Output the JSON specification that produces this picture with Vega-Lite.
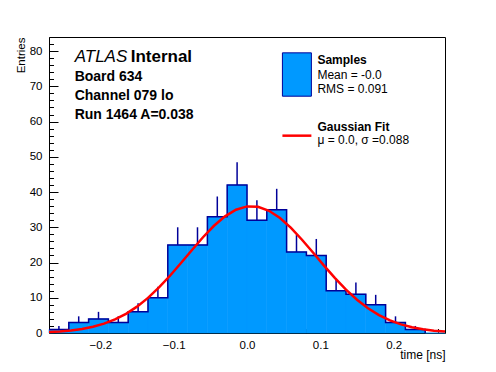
{
  "$schema": "https://vega.github.io/schema/vega-lite/v6.json",
  "autosize": {"type": "none"},
  "padding": {"left": 49, "top": 37, "right": 51, "bottom": 39},
  "width": 396,
  "height": 296,
  "background": "white",
  "config": {
    "view": {"stroke": "black", "strokeWidth": 1},
    "font": "Liberation Sans",
    "axis": {"grid": false, "domain": false, "tickColor": "black", "tickWidth": 1, "labelColor": "black", "titleColor": "black", "labelFont": "Liberation Sans", "titleFont": "Liberation Sans", "titleFontWeight": "normal", "zindex": 2}
  },
  "datasets": {
    "bins": [
      {"lo": -0.270, "hi": -0.243, "center": -0.2565, "n": 1, "top": 2.00},
      {"lo": -0.243, "hi": -0.216, "center": -0.2295, "n": 3, "top": 4.73},
      {"lo": -0.216, "hi": -0.189, "center": -0.2025, "n": 4, "top": 6.00},
      {"lo": -0.189, "hi": -0.162, "center": -0.1755, "n": 3, "top": 4.73},
      {"lo": -0.162, "hi": -0.135, "center": -0.1485, "n": 6, "top": 8.45},
      {"lo": -0.135, "hi": -0.108, "center": -0.1215, "n": 10, "top": 13.16},
      {"lo": -0.108, "hi": -0.081, "center": -0.0945, "n": 25, "top": 30.00},
      {"lo": -0.081, "hi": -0.054, "center": -0.0675, "n": 25, "top": 30.00},
      {"lo": -0.054, "hi": -0.027, "center": -0.0405, "n": 33, "top": 38.74},
      {"lo": -0.027, "hi": 0.000, "center": -0.0135, "n": 42, "top": 48.48},
      {"lo": 0.000, "hi": 0.027, "center": 0.0135, "n": 32, "top": 37.66},
      {"lo": 0.027, "hi": 0.054, "center": 0.0405, "n": 35, "top": 40.92},
      {"lo": 0.054, "hi": 0.081, "center": 0.0675, "n": 23, "top": 27.80},
      {"lo": 0.081, "hi": 0.108, "center": 0.0945, "n": 22, "top": 26.69},
      {"lo": 0.108, "hi": 0.135, "center": 0.1215, "n": 12, "top": 15.46},
      {"lo": 0.135, "hi": 0.162, "center": 0.1485, "n": 11, "top": 14.32},
      {"lo": 0.162, "hi": 0.189, "center": 0.1755, "n": 8, "top": 10.83},
      {"lo": 0.189, "hi": 0.216, "center": 0.2025, "n": 3, "top": 4.73},
      {"lo": 0.216, "hi": 0.243, "center": 0.2295, "n": 1, "top": 2.00},
      {"lo": 0.243, "hi": 0.270, "center": 0.2565, "n": 0, "top": 0}
    ],
    "fit": [
      {"t": -0.270, "f": 0.263}, {"t": -0.255, "f": 0.443}, {"t": -0.240, "f": 0.723},
      {"t": -0.225, "f": 1.148}, {"t": -0.210, "f": 1.771}, {"t": -0.195, "f": 2.650},
      {"t": -0.180, "f": 3.855}, {"t": -0.165, "f": 5.45}, {"t": -0.150, "f": 7.48},
      {"t": -0.135, "f": 9.97}, {"t": -0.120, "f": 12.92}, {"t": -0.105, "f": 16.25},
      {"t": -0.090, "f": 19.86}, {"t": -0.075, "f": 23.57}, {"t": -0.060, "f": 27.17},
      {"t": -0.045, "f": 30.43}, {"t": -0.030, "f": 33.11}, {"t": -0.015, "f": 34.99},
      {"t": 0.000, "f": 35.92}, {"t": 0.015, "f": 35.81}, {"t": 0.030, "f": 34.69},
      {"t": 0.045, "f": 32.63}, {"t": 0.060, "f": 29.82}, {"t": 0.075, "f": 26.47},
      {"t": 0.090, "f": 22.83}, {"t": 0.105, "f": 19.12}, {"t": 0.120, "f": 15.56},
      {"t": 0.135, "f": 12.29}, {"t": 0.150, "f": 9.44}, {"t": 0.165, "f": 7.04},
      {"t": 0.180, "f": 5.10}, {"t": 0.195, "f": 3.59}, {"t": 0.210, "f": 2.45},
      {"t": 0.225, "f": 1.63}, {"t": 0.240, "f": 1.05}, {"t": 0.255, "f": 0.657},
      {"t": 0.270, "f": 0.40}
    ]
  },
  "resolve": {"axis": {"x": "independent", "y": "independent"}},
  "layer": [
    {
      "data": {"name": "bins"},
      "mark": {"type": "rect", "fill": "#0099ff", "stroke": "#0099ff", "strokeWidth": 0.6},
      "encoding": {
        "x": {"field": "lo", "type": "quantitative", "scale": {"domain": [-0.27, 0.27], "nice": false, "zero": false},
              "axis": {"orient": "bottom", "values": [-0.2, -0.1, 0, 0.1, 0.2], "offset": -9, "tickSize": 9, "labelPadding": 6, "labelFontSize": 11.5, "title": "time [ns]", "titleFontSize": 12, "titleAnchor": "end", "titleAlign": "right", "titleBaseline": "alphabetic", "titleX": 396, "titleY": 34}},
        "x2": {"field": "hi"},
        "y": {"field": "n", "type": "quantitative", "scale": {"domain": [0, 84], "nice": false, "zero": true},
              "axis": {"orient": "left", "values": [0, 10, 20, 30, 40, 50, 60, 70, 80], "offset": -9, "tickSize": 9, "labelPadding": 7, "labelFontSize": 11.5, "title": "Entries", "titleFontSize": 11.5, "titleAngle": -90, "titleAnchor": "end", "titleAlign": "right", "titleBaseline": "alphabetic", "titleX": -34, "titleY": 0}},
        "y2": {"datum": 0}
      }
    },
    {
      "data": {"name": "bins"},
      "mark": {"type": "rule", "color": "#000099", "strokeWidth": 1.5},
      "encoding": {
        "x": {"field": "center", "type": "quantitative",
              "axis": {"orient": "bottom", "values": [-0.26, -0.24, -0.22, -0.18, -0.16, -0.14, -0.12, -0.08, -0.06, -0.04, -0.02, 0.02, 0.04, 0.06, 0.08, 0.12, 0.14, 0.16, 0.18, 0.22, 0.24, 0.26], "offset": -4.5, "tickSize": 4.5, "labels": false, "title": null}},
        "y": {"field": "n", "type": "quantitative",
              "axis": {"orient": "left", "values": [2, 4, 6, 8, 12, 14, 16, 18, 22, 24, 26, 28, 32, 34, 36, 38, 42, 44, 46, 48, 52, 54, 56, 58, 62, 64, 66, 68, 72, 74, 76, 78, 82, 84], "offset": -4.5, "tickSize": 4.5, "labels": false, "title": null}},
        "y2": {"field": "top"}
      }
    },
    {
      "data": {"name": "bins"},
      "mark": {"type": "line", "interpolate": "step-after", "color": "#000099", "strokeWidth": 1.5},
      "encoding": {
        "x": {"field": "lo", "type": "quantitative", "axis": null},
        "y": {"field": "n", "type": "quantitative", "axis": null}
      }
    },
    {
      "data": {"name": "fit"},
      "mark": {"type": "line", "color": "#ff0000", "strokeWidth": 2.5},
      "encoding": {
        "x": {"field": "t", "type": "quantitative", "axis": null},
        "y": {"field": "f", "type": "quantitative", "axis": null}
      }
    },
    {
      "data": {"values": [{"x1": 0.0483, "x2": 0.0878, "y1": 79.5, "y2": 67.2}]},
      "mark": {"type": "rect", "fill": "#0099ff", "stroke": "#000099", "strokeWidth": 1},
      "encoding": {
        "x": {"field": "x1", "type": "quantitative", "axis": null},
        "x2": {"field": "x2"},
        "y": {"field": "y1", "type": "quantitative", "axis": null},
        "y2": {"field": "y2"}
      }
    },
    {
      "data": {"values": [{"x1": 0.0483, "x2": 0.0878, "y": 56.0}]},
      "mark": {"type": "rule", "color": "#ff0000", "strokeWidth": 2.5},
      "encoding": {
        "x": {"field": "x1", "type": "quantitative", "axis": null},
        "x2": {"field": "x2"},
        "y": {"field": "y", "type": "quantitative", "axis": null}
      }
    },
    {
      "data": {"values": [{"x": -0.235, "y": 77.0, "label": "ATLAS"}]},
      "mark": {"type": "text", "align": "left", "baseline": "alphabetic", "fontSize": 17, "fontStyle": "italic", "font": "Liberation Sans", "color": "black"},
      "encoding": {
        "x": {"field": "x", "type": "quantitative", "axis": null},
        "y": {"field": "y", "type": "quantitative", "axis": null},
        "text": {"field": "label"}
      }
    },
    {
      "data": {"values": [{"x": -0.1586, "y": 77.0, "label": "Internal"}]},
      "mark": {"type": "text", "align": "left", "baseline": "alphabetic", "fontSize": 17, "fontWeight": "bold", "font": "Liberation Sans", "color": "black"},
      "encoding": {
        "x": {"field": "x", "type": "quantitative", "axis": null},
        "y": {"field": "y", "type": "quantitative", "axis": null},
        "text": {"field": "label"}
      }
    },
    {
      "data": {"values": [
        {"x": -0.235, "y": 71.65, "label": "Board 634"},
        {"x": -0.235, "y": 66.26, "label": "Channel 079 lo"},
        {"x": -0.235, "y": 60.87, "label": "Run 1464 A=0.038"}
      ]},
      "mark": {"type": "text", "align": "left", "baseline": "alphabetic", "fontSize": 14, "fontWeight": "bold", "font": "Liberation Sans", "color": "black"},
      "encoding": {
        "x": {"field": "x", "type": "quantitative", "axis": null},
        "y": {"field": "y", "type": "quantitative", "axis": null},
        "text": {"field": "label"}
      }
    },
    {
      "data": {"values": [
        {"x": 0.096, "y": 76.2, "label": "Samples"},
        {"x": 0.096, "y": 57.2, "label": "Gaussian Fit"}
      ]},
      "mark": {"type": "text", "align": "left", "baseline": "alphabetic", "fontSize": 12, "fontWeight": "bold", "font": "Liberation Sans", "color": "black"},
      "encoding": {
        "x": {"field": "x", "type": "quantitative", "axis": null},
        "y": {"field": "y", "type": "quantitative", "axis": null},
        "text": {"field": "label"}
      }
    },
    {
      "data": {"values": [
        {"x": 0.096, "y": 72.1, "label": "Mean = -0.0"},
        {"x": 0.096, "y": 68.2, "label": "RMS = 0.091"},
        {"x": 0.096, "y": 53.5, "label": "μ = 0.0, σ =0.088"}
      ]},
      "mark": {"type": "text", "align": "left", "baseline": "alphabetic", "fontSize": 12, "font": "Liberation Sans", "color": "black"},
      "encoding": {
        "x": {"field": "x", "type": "quantitative", "axis": null},
        "y": {"field": "y", "type": "quantitative", "axis": null},
        "text": {"field": "label"}
      }
    }
  ]
}
